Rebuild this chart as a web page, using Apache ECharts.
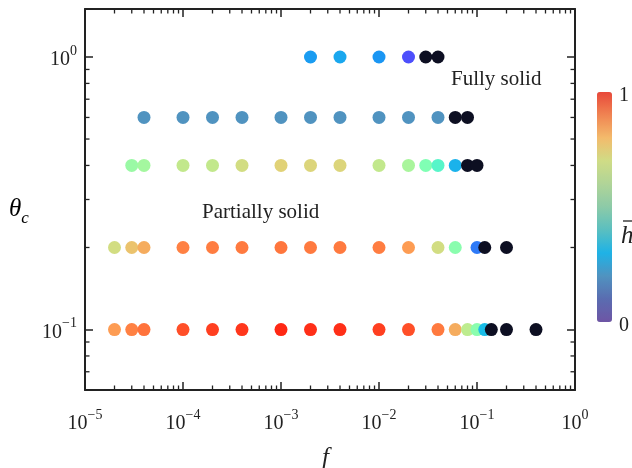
<!DOCTYPE html>
<html>
<head>
<meta charset="utf-8">
<script src="https://cdn.jsdelivr.net/npm/echarts@6/dist/echarts.min.js"></script>
<style>
  html, body { margin: 0; padding: 0; background: #fff; }
  #chart { width: 632px; height: 468px; }
</style>
</head>
<body>
<div id="chart"></div>
<script>
// ---- data (f, h) per theta_c row; h = null means "fully solid" (black) ----
const thetaRows = [1, 0.6, 0.4, 0.2, 0.1];

const f_theta1 = [0.002, 0.004, 0.01, 0.02, 0.03, 0.04];
const h_theta1 = [0.21, 0.23, 0.2, 0.1, null, null];

const f_theta06 = [4e-5, 1e-4, 2e-4, 4e-4, 1e-3, 2e-3, 4e-3, 1e-2, 2e-2, 4e-2, 0.06, 0.08];
const h_theta06 = [0.2, 0.2, 0.2, 0.2, 0.2, 0.2, 0.2, 0.2, 0.2, 0.2, null, null];

const f_theta04 = [3e-5, 4e-5, 1e-4, 2e-4, 4e-4, 1e-3, 2e-3, 4e-3, 1e-2, 2e-2, 3e-2, 4e-2, 0.06, 0.08, 0.1];
const h_theta04 = [0.55, 0.57, 0.63, 0.63, 0.66, 0.69, 0.68, 0.68, 0.63, 0.58, 0.5, 0.42, 0.25, null, null];

const f_theta02 = [2e-5, 3e-5, 4e-5, 1e-4, 2e-4, 4e-4, 1e-3, 2e-3, 4e-3, 1e-2, 2e-2, 4e-2, 0.06, 0.1, 0.12, 0.2];
const h_theta02 = [0.66, 0.72, 0.76, 0.83, 0.835, 0.84, 0.845, 0.84, 0.84, 0.835, 0.79, 0.66, 0.52, 0.16, null, null];

const f_theta01 = [2e-5, 3e-5, 4e-5, 1e-4, 2e-4, 4e-4, 1e-3, 2e-3, 4e-3, 1e-2, 2e-2, 4e-2, 0.06, 0.08, 0.1, 0.12, 0.14, 0.2, 0.4];
const h_theta01 = [0.79, 0.83, 0.85, 0.9, 0.92, 0.93, 0.95, 0.94, 0.94, 0.92, 0.9, 0.84, 0.76, 0.62, 0.52, 0.27, null, null, null];

// axis ranges / ticks
const xMin = 1e-5, xMax = 1;
const yMin = 0.06, yMax = 1.5;
const xMinorTicks = [];
for (let k = -5; k <= -1; k++) for (let m = 2; m <= 9; m++) xMinorTicks.push(m * Math.pow(10, k));
const yMinorTicks = [0.07, 0.08, 0.09, 0.2, 0.3, 0.4, 0.5, 0.6, 0.7, 0.8, 0.9];

// colormaps (lists of stops from h=0 to h=1)
const dotColors = ['#8000ff', '#4d4ffc', '#1a96f3', '#1acee3', '#4df3ce', '#80ffb4', '#b3f396', '#e6ce74', '#ff964f', '#ff4f28', '#ff0000'];
const barColors = ['#6e55a5', '#5a6cb0', '#5093c0', '#1eb2e6', '#5abfc0', '#8ccaa8', '#b0d498', '#cfdc86', '#f3bb6c', '#f08452', '#e8483a'];
const solidColor = '#0d0f22';

// ---- build series data ----
const rowsF = [f_theta1, f_theta06, f_theta04, f_theta02, f_theta01];
const rowsH = [h_theta1, h_theta06, h_theta04, h_theta02, h_theta01];
const partialMain = [], partial06 = [], solid = [];
rowsF.forEach((fs, r) => {
  fs.forEach((f, i) => {
    const h = rowsH[r][i];
    const th = thetaRows[r];
    if (h === null) solid.push([f, th]);
    else if (th === 0.6) partial06.push([f, th, h]);
    else partialMain.push([f, th, h]);
  });
});
const tickData = xMinorTicks.map(v => [v, 0.3, 0]).concat(yMinorTicks.map(v => [1e-3, v, 1]));

const FONT = '"Liberation Serif", "Times New Roman", serif';
const INK = '#222';

function powLabel(v) {
  const e = Math.log10(v);
  const r = Math.round(e);
  if (Math.abs(e - r) > 1e-6) return '';
  const s = r < 0 ? '\u2212' + (-r) : String(r);
  return '{b|10}{s|' + s + '}';
}
const labelRich = {
  b: { fontFamily: FONT, fontSize: 20, color: INK, lineHeight: 26, verticalAlign: 'bottom' },
  s: { fontFamily: FONT, fontSize: 14, color: INK, lineHeight: 16, verticalAlign: 'top' }
};

const axisCommon = {
  type: 'log', logBase: 10,
  axisLine: { show: true, lineStyle: { color: INK, width: 2 } },
  axisTick: { show: true, inside: true, length: 8, lineStyle: { color: INK, width: 1.5 } },
  splitLine: { show: false },
  minorTick: { show: false }
};

const chart = echarts.init(document.getElementById('chart'), null, { renderer: 'canvas' });
chart.setOption({
  animation: false,
  backgroundColor: '#fff',
  grid: { left: 85, top: 9, width: 490, height: 381, containLabel: false },
  xAxis: [
    Object.assign({}, axisCommon, {
      min: xMin, max: xMax, position: 'bottom',
      axisLabel: { formatter: powLabel, rich: labelRich, margin: 18 }
    }),
    Object.assign({}, axisCommon, {
      min: xMin, max: xMax, position: 'top', axisLabel: { show: false }
    })
  ],
  yAxis: [
    Object.assign({}, axisCommon, {
      min: yMin, max: yMax, position: 'left',
      axisLabel: { formatter: powLabel, rich: labelRich, margin: 8 }
    }),
    Object.assign({}, axisCommon, {
      min: yMin, max: yMax, position: 'right', axisLabel: { show: false }
    })
  ],
  visualMap: [
    {
      type: 'continuous', show: false, min: 0, max: 1, dimension: 2,
      seriesIndex: 0, inRange: { color: dotColors }
    },
    {
      type: 'continuous', show: true, min: 0, max: 1, dimension: 2,
      seriesIndex: 1, inRange: { color: barColors },
      orient: 'vertical', left: 592, top: 87, itemWidth: 15, itemHeight: 230,
      calculable: false, hoverLink: false, padding: 5
    }
  ],
  series: [
    { type: 'scatter', data: partialMain, symbolSize: 13, itemStyle: { opacity: 1 }, z: 3 },
    { type: 'scatter', data: partial06, symbolSize: 13, itemStyle: { opacity: 1 }, z: 3 },
    { type: 'scatter', data: solid, symbolSize: 13, itemStyle: { color: solidColor, opacity: 1 }, z: 4 },
    {
      type: 'custom', data: tickData, clip: false, silent: true, z: 5,
      renderItem: function (params, api) {
        const cs = params.coordSys;
        const p = api.coord([api.value(0), api.value(1)]);
        const style = { stroke: INK, lineWidth: 1.3 };
        const L = 4.5;
        if (api.value(2) === 0) {
          const b = cs.y + cs.height, t = cs.y;
          return { type: 'group', children: [
            { type: 'line', shape: { x1: p[0], y1: b, x2: p[0], y2: b - L }, style },
            { type: 'line', shape: { x1: p[0], y1: t, x2: p[0], y2: t + L }, style }
          ]};
        } else {
          const l = cs.x, r = cs.x + cs.width;
          return { type: 'group', children: [
            { type: 'line', shape: { x1: l, y1: p[1], x2: l + L, y2: p[1] }, style },
            { type: 'line', shape: { x1: r, y1: p[1], x2: r - L, y2: p[1] }, style }
          ]};
        }
      }
    }
  ],
  graphic: [
    { type: 'text', left: 451, top: 69, style: { text: 'Fully solid', font: '21px ' + FONT, fill: INK } },
    { type: 'text', left: 202, top: 202, style: { text: 'Partially solid', font: '21px ' + FONT, fill: INK } },
    { type: 'text', left: 322, top: 446, style: { text: 'f', font: 'italic 25px ' + FONT, fill: INK } },
    { type: 'text', left: 9, top: 197, style: {
        text: '{t|\u03b8}{c|c}',
        rich: {
          t: { fontFamily: FONT, fontStyle: 'italic', fontSize: 25, color: INK, lineHeight: 30, verticalAlign: 'top' },
          c: { fontFamily: FONT, fontStyle: 'italic', fontSize: 17, color: INK, lineHeight: 17, verticalAlign: 'bottom' }
        } } },
    { type: 'text', left: 619, top: 86, style: { text: '1', font: '20px ' + FONT, fill: INK } },
    { type: 'text', left: 619, top: 316, style: { text: '0', font: '20px ' + FONT, fill: INK } },
    { type: 'text', left: 621, top: 224, style: { text: 'h', font: 'italic 25px ' + FONT, fill: INK } },
    { type: 'line', shape: { x1: 623, y1: 221, x2: 634, y2: 221 }, style: { stroke: INK, lineWidth: 1.3 } }
  ]
});
</script>
</body>
</html>
